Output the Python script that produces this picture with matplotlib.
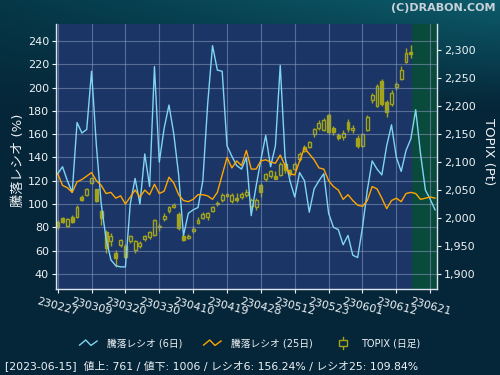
import numpy as np
import matplotlib
matplotlib.use('Agg')
import matplotlib.pyplot as plt
from matplotlib.lines import Line2D
from matplotlib.patches import Rectangle
from matplotlib.legend_handler import HandlerBase
from matplotlib.ticker import FuncFormatter

plt.rcParams['font.family'] = ['DejaVu Sans', 'Noto Sans CJK JP']

# x tick labels (every 7 trading days)
date_labels = ['230227', '230309', '230320', '230330', '230410', '230419',
               '230428', '230512', '230523', '230601', '230612', '230621']

# advance/decline ratio, 6 day and 25 day (%)
ratio6 = [126, 132, 120, 110, 170, 161, 164, 214, 150, 100,
          70, 52, 47, 46, 46, 100, 122, 100, 143, 115,
          218, 136, 165, 185, 160, 125, 73, 92, 95, 97,
          120, 186, 236, 215, 214, 150, 141, 133, 130, 140,
          90, 115, 138, 159, 132, 150, 219, 140, 120, 106,
          127, 120, 93, 113, 120, 126, 92, 80, 78, 65,
          73, 56, 54, 80, 112, 137, 130, 125, 150, 168,
          140, 128, 146, 156, 181, 143, 112, 104, 95]
ratio25 = [126, 116, 114, 110, 119, 121, 124, 127, 120, 116,
           109, 110, 105, 107, 100, 106, 112, 106, 112, 108,
           117, 109, 111, 123, 118, 108, 103, 102, 104, 108,
           108, 107, 104, 110, 125, 140, 131, 137, 133, 146,
           130, 130, 137, 138, 136, 135, 142, 133, 126, 125,
           137, 148, 143, 138, 131, 130, 120, 115, 112, 104,
           108, 103, 99, 98, 103, 115, 113, 105, 96, 103,
           105, 102, 109, 110, 109, 104, 105, 106, 105]

# TOPIX daily candles
topix_open = [1993, 1999, 1986, 2002, 2001, 2038, 2040, 2062, 2051, 2012,
              1975, 1958, 1938, 1951, 1950, 1958, 1943, 1950, 1962, 1966,
              1970, 1985, 1998, 2013, 2019, 2007, 1968, 1964, 1976, 1991,
              1999, 2001, 2013, 2025, 2032, 2039, 2030, 2036, 2037, 2041,
              2022, 2020, 2058, 2069, 2074, 2074, 2076, 2096, 2085, 2088,
              2105, 2120, 2127, 2150, 2160, 2157, 2184, 2160, 2148, 2145,
              2172, 2157, 2142, 2129, 2157, 2210, 2200, 2245, 2207, 2204,
              2233, 2249, 2279, 2296]
topix_high = [1996, 2001, 2000, 2005, 2023, 2040, 2053, 2072, 2052, 2014,
              1979, 1973, 1943, 1963, 1954, 1969, 1961, 1959, 1970, 1977,
              1998, 1990, 2008, 2021, 2026, 2010, 1971, 1971, 1985, 2001,
              2010, 2011, 2021, 2030, 2044, 2045, 2044, 2044, 2047, 2051,
              2035, 2035, 2062, 2081, 2086, 2083, 2099, 2100, 2088, 2099,
              2117, 2130, 2138, 2161, 2174, 2178, 2188, 2164, 2152, 2157,
              2176, 2166, 2148, 2152, 2184, 2224, 2239, 2249, 2211, 2229,
              2243, 2271, 2303, 2309]
topix_low = [1980, 1990, 1984, 1990, 2000, 2030, 2039, 2060, 2028, 1987,
             1937, 1949, 1912, 1948, 1928, 1955, 1938, 1947, 1959, 1962,
             1968, 1976, 1995, 2008, 2017, 1979, 1958, 1962, 1973, 1989,
             1998, 1996, 2011, 2022, 2029, 2037, 2027, 2029, 2034, 2038,
             2017, 2014, 2038, 2066, 2071, 2069, 2074, 2081, 2075, 2083,
             2101, 2118, 2124, 2145, 2157, 2155, 2150, 2148, 2139, 2140,
             2154, 2152, 2124, 2126, 2156, 2205, 2198, 2200, 2180, 2200,
             2228, 2247, 2276, 2285]
topix_close = [1983, 1992, 1998, 1992, 2020, 2032, 2052, 2071, 2030, 1999,
               1947, 1968, 1928, 1961, 1930, 1967, 1958, 1956, 1967, 1974,
               1996, 1984, 2004, 2019, 2023, 1982, 1961, 1968, 1980, 1996,
               2007, 2008, 2019, 2027, 2041, 2042, 2041, 2032, 2042, 2047,
               2032, 2032, 2047, 2079, 2083, 2070, 2096, 2085, 2079, 2096,
               2114, 2127, 2135, 2158, 2169, 2175, 2154, 2154, 2142, 2152,
               2158, 2161, 2129, 2150, 2181, 2220, 2236, 2204, 2190, 2223,
               2239, 2264, 2295, 2292]

legend_labels = ['騰落レシオ (6日)', '騰落レシオ (25日)', 'TOPIX (日足)']
status = '[2023-06-15]  値上: 761 / 値下: 1006 / レシオ6: 156.24% / レシオ25: 109.84%'

BLUE = '#80d4f4'
ORANGE = '#ffa500'
OLIVE = '#a3a31c'
NAVY = '#1b3666'
TXT = '#eef2f6'


class ZigzagHandler(HandlerBase):
    def create_artists(self, legend, orig, xd, yd, w, h, fs, trans):
        xs = np.array([0.0, 0.35, 0.65, 1.0]) * w - xd
        ys = np.array([0.15, 0.9, 0.1, 0.75]) * h - yd
        ln = Line2D(xs, ys, color=orig.get_color(), lw=1, transform=trans)
        return [ln]


class CandleHandler(HandlerBase):
    def create_artists(self, legend, orig, xd, yd, w, h, fs, trans):
        cx = w / 2 - xd
        wick = Line2D([cx, cx], [-0.4 * h - yd, 1.4 * h - yd], color=OLIVE, lw=1, transform=trans)
        body = Rectangle((cx - 0.22 * w, 0.05 * h - yd), 0.44 * w, 0.9 * h,
                         facecolor='#0a2a40', edgecolor=OLIVE, lw=1, transform=trans)
        return [wick, body]


fig = plt.figure(figsize=(5, 3.75), dpi=100)

# background gradient
bg = fig.add_axes([0, 0, 1, 1], zorder=-10)
t = np.linspace(0, 1, 200)[:, None]
s = np.linspace(0, 1, 200)[None, :]
top = np.array([0.02, 0.22, 0.28])[None, None, :] * (1 - s[..., None]) + \
      np.array([0.05, 0.36, 0.42])[None, None, :] * s[..., None]
bottom = np.array([0.02, 0.15, 0.22])
w = np.clip(t * 3.5, 0, 1)[..., None]
img = top * (1 - w) + bottom * w
bg.imshow(img, aspect='auto', extent=[0, 1, 0, 1])
bg.axis('off')

ax = fig.add_axes([0.112, 0.229, 0.762, 0.707])
axp = ax.twinx()
ax.set_zorder(axp.get_zorder() + 1)
ax.patch.set_visible(False)
axp.patch.set_visible(True)
axp.patch.set_facecolor(NAVY)

# candles
o = np.array(topix_open, float)
c = np.array(topix_close, float)
x = np.arange(len(o))
up = c >= o
bb = np.minimum(o, c)
bh = np.maximum(np.abs(c - o), 1.0)
axp.axvspan(len(o) - 0.8, len(ratio6) + 2, color='#0a4a3c', zorder=0.5, lw=0)
axp.vlines(x, topix_low, topix_high, color=OLIVE, lw=1, zorder=1.5)
axp.bar(x[up], bh[up], bottom=bb[up], width=0.6, facecolor=NAVY,
        edgecolor=OLIVE, lw=1, zorder=2)
axp.bar(x[~up], bh[~up], bottom=bb[~up], width=0.6, facecolor=OLIVE,
        edgecolor=OLIVE, lw=1, zorder=2)

# ratio lines
xl = np.arange(len(ratio6))
l6, = ax.plot(xl, ratio6, color=BLUE, lw=1)
l25, = ax.plot(xl, ratio25, color=ORANGE, lw=1)

ax.set_xlim(-0.35, 78.4)
ax.set_ylim(26.9, 254.6)
axp.set_ylim(1872.7, 2346.4)

ax.set_yticks(range(40, 241, 20))
axp.set_yticks(range(1900, 2301, 50))
axp.yaxis.set_major_formatter(FuncFormatter(lambda v, p: f'{int(v):,}'))
ax.set_xticks(np.arange(len(date_labels)) * 7)
ax.set_xticklabels(date_labels, rotation=-15, ha='center', va='top')

ax.grid(True, color='#8a9cc0', lw=0.8, alpha=0.55)
ax.set_axisbelow(True)

for sp in ['top', 'right']:
    ax.spines[sp].set_visible(False)
for sp in ['top', 'left', 'bottom']:
    axp.spines[sp].set_visible(False)
for sp in [ax.spines['left'], ax.spines['bottom'], axp.spines['right']]:
    sp.set_color('#dde4ec')
    sp.set_linewidth(1)

ax.tick_params(colors=TXT, labelsize=8, length=3, pad=2)
axp.tick_params(colors=TXT, labelsize=8, length=3, pad=2)

fig.text(0.99, 0.978, '(C)DRABON.COM', ha='right', va='center', fontsize=8,
         weight='bold', color='#c8d2da')
fig.text(0.036, 0.573, '騰落レシオ (%)', rotation=90, ha='center', va='center',
         fontsize=9.5, color=TXT)
fig.text(0.976, 0.595, 'TOPIX (Pt)', rotation=-90, ha='center', va='center',
         fontsize=9.5, color=TXT)

cndl = Rectangle((0, 0), 1, 1)
fig.legend([l6, l25, cndl], legend_labels, loc='center', bbox_to_anchor=(0.5, 0.085),
           ncol=3, frameon=False, fontsize=7, labelcolor=TXT, columnspacing=2.2,
           handlelength=1.8, handletextpad=1.0,
           handler_map={l6: ZigzagHandler(), l25: ZigzagHandler(), cndl: CandleHandler()})

fig.text(0.01, 0.024, status, ha='left', va='center', fontsize=7.8, color=TXT)

fig.savefig('out.png', dpi=100)
